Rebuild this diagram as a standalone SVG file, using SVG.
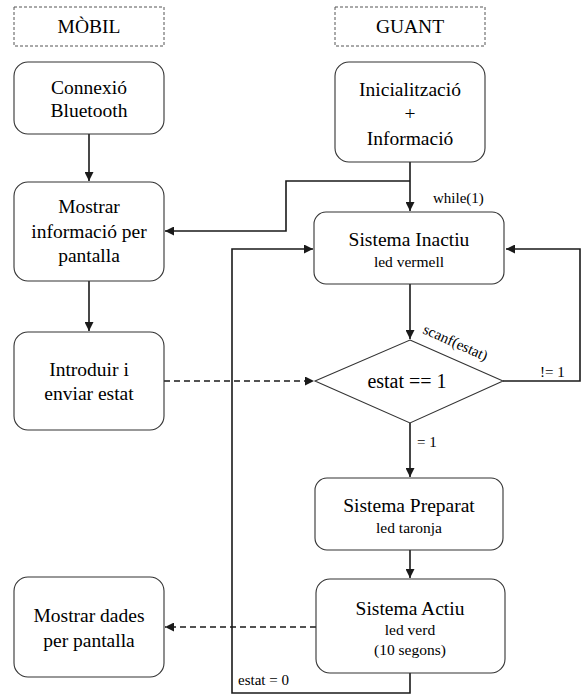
<svg xmlns="http://www.w3.org/2000/svg" width="582" height="695" viewBox="0 0 582 695">
  <style>
    text { font-family: "Liberation Serif", "DejaVu Serif", serif; fill: #000; text-anchor: middle; }
    .lane { fill: none; stroke: #555; stroke-width: 1; stroke-dasharray: 3 2; }
    .box { fill: #fff; stroke: #333; stroke-width: 1.1; }
    .t { font-size: 19.5px; }
    .s { font-size: 15.5px; }
    .lbl { font-size: 15px; text-anchor: start; }
    .wire { fill: none; stroke: #1a1a1a; stroke-width: 1.6; }
    .dash { fill: none; stroke: #1a1a1a; stroke-width: 1.6; stroke-dasharray: 6 4; }
  </style>
  <defs>
    <marker id="arrow" viewBox="0 0 10 10" refX="10" refY="5" markerWidth="9" markerHeight="9" markerUnits="userSpaceOnUse" orient="auto">
      <path d="M0,0 L10,5 L0,10 Z" fill="#1a1a1a"/>
    </marker>
  </defs>

  <rect width="582" height="695" fill="#fff"/>

  <!-- lane headers -->
  <g id="lane-mobil">
    <rect class="lane" x="14" y="7" width="150" height="39"/>
    <text class="t" x="89" y="33">MÒBIL</text>
  </g>
  <g id="lane-guant">
    <rect class="lane" x="335" y="7" width="150" height="39"/>
    <text class="t" x="410" y="33">GUANT</text>
  </g>

  <!-- connectors -->
  <g id="connectors">
    <line class="wire" x1="89" y1="134" x2="89" y2="181" marker-end="url(#arrow)"/>
    <line class="wire" x1="89" y1="281" x2="89" y2="331" marker-end="url(#arrow)"/>
    <line class="wire" x1="410" y1="162" x2="410" y2="211" marker-end="url(#arrow)"/>
    <polyline class="wire" points="410,181 286,181 286,231 165,231" marker-end="url(#arrow)"/>
    <line class="wire" x1="410" y1="284" x2="410" y2="339" marker-end="url(#arrow)"/>
    <polyline class="wire" points="503,381 580,381 580,249 506,249" marker-end="url(#arrow)"/>
    <line class="wire" x1="410" y1="423" x2="410" y2="477" marker-end="url(#arrow)"/>
    <line class="wire" x1="410" y1="550" x2="410" y2="578" marker-end="url(#arrow)"/>
    <polyline class="wire" points="410,673 410,693 232,693 232,249 313,249" marker-end="url(#arrow)"/>
    <line class="dash" x1="164" y1="381" x2="314" y2="381" marker-end="url(#arrow)"/>
    <line class="dash" x1="316" y1="627" x2="165" y2="627" marker-end="url(#arrow)"/>

    <text class="lbl" x="433" y="203">while(1)</text>
    <text class="lbl" x="0" y="0" transform="translate(422,333) rotate(24)">scanf(estat)</text>
    <text class="lbl" x="540" y="377">!= 1</text>
    <text class="lbl" x="417" y="447">= 1</text>
    <text class="lbl" x="238" y="685">estat = 0</text>
  </g>

  <!-- mobile side -->
  <g id="connexio-bluetooth">
    <rect class="box" x="14" y="62" width="150" height="72" rx="14"/>
    <text class="t" x="89" y="94">Connexió</text>
    <text class="t" x="89" y="117">Bluetooth</text>
  </g>
  <g id="mostrar-informacio">
    <rect class="box" x="14" y="182" width="150" height="99" rx="14"/>
    <text class="t" x="89" y="213">Mostrar</text>
    <text class="t" x="89" y="238">informació per</text>
    <text class="t" x="89" y="262">pantalla</text>
  </g>
  <g id="introduir-estat">
    <rect class="box" x="14" y="332" width="150" height="98" rx="14"/>
    <text class="t" x="89" y="376">Introduir i</text>
    <text class="t" x="89" y="400">enviar estat</text>
  </g>
  <g id="mostrar-dades">
    <rect class="box" x="14" y="577" width="150" height="100" rx="14"/>
    <text class="t" x="89" y="622">Mostrar dades</text>
    <text class="t" x="89" y="647">per pantalla</text>
  </g>

  <!-- glove side -->
  <g id="inicialitzacio">
    <rect class="box" x="335" y="62" width="150" height="100" rx="14"/>
    <text class="t" x="410" y="96">Inicialització</text>
    <text class="t" x="410" y="120">+</text>
    <text class="t" x="410" y="145">Informació</text>
  </g>
  <g id="sistema-inactiu">
    <rect class="box" x="314" y="212" width="190" height="72" rx="12"/>
    <text class="t" x="409" y="246">Sistema Inactiu</text>
    <text class="s" x="409" y="267">led vermell</text>
  </g>
  <g id="decisio-estat">
    <polygon class="box" points="410,340 503,381 410,423 315,381"/>
    <text x="407" y="388" style="font-size:20px">estat == 1</text>
  </g>
  <g id="sistema-preparat">
    <rect class="box" x="315" y="478" width="188" height="72" rx="12"/>
    <text class="t" x="409" y="512">Sistema Preparat</text>
    <text class="s" x="409" y="533">led taronja</text>
  </g>
  <g id="sistema-actiu">
    <rect class="box" x="316" y="579" width="189" height="94" rx="14"/>
    <text class="t" x="410" y="615">Sistema Actiu</text>
    <text class="s" x="410" y="635">led verd</text>
    <text class="s" x="410" y="655">(10 segons)</text>
  </g>
</svg>
